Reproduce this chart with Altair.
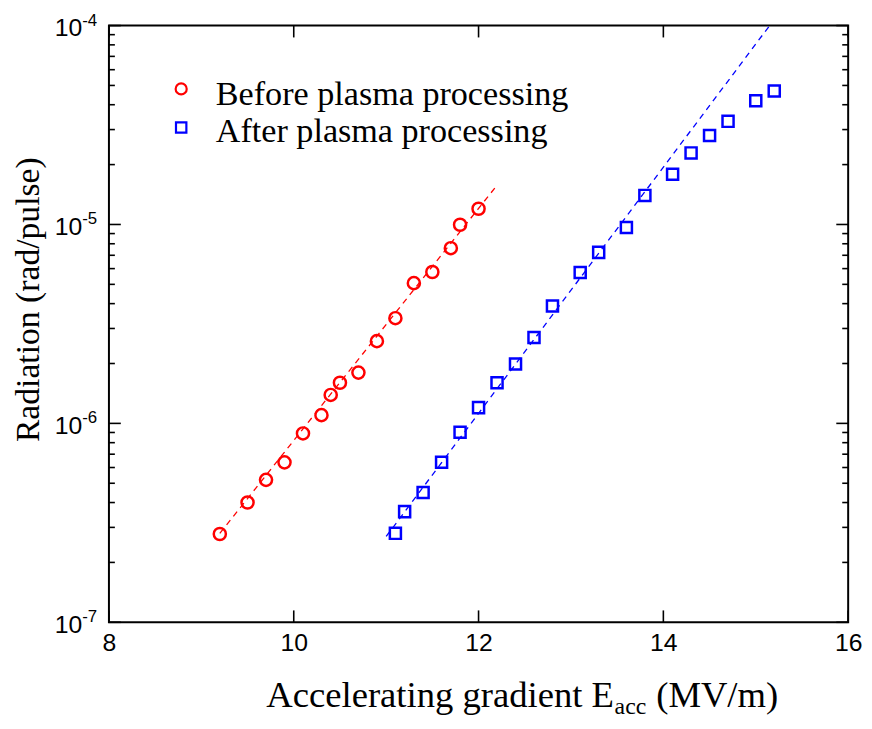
import altair as alt
import pandas as pd

# ---------------- data ----------------
before_x = [9.2, 9.5, 9.7, 9.9, 10.1, 10.3, 10.4, 10.5, 10.7, 10.9, 11.1, 11.3, 11.5, 11.7, 11.8, 12.0]
before_y = [2.78e-7, 4.0e-7, 5.2e-7, 6.37e-7, 8.9e-7, 1.10e-6, 1.39e-6, 1.60e-6, 1.80e-6, 2.59e-6,
            3.38e-6, 5.07e-6, 5.77e-6, 7.60e-6, 9.97e-6, 1.20e-5]
after_x = [11.1, 11.2, 11.4, 11.6, 11.8, 12.0, 12.2, 12.4, 12.6, 12.8, 13.1, 13.3, 13.6, 13.8,
           14.1, 14.3, 14.5, 14.7, 15.0, 15.2]
after_y = [2.8e-7, 3.6e-7, 4.49e-7, 6.38e-7, 9.03e-7, 1.2e-6, 1.6e-6, 1.99e-6, 2.7e-6, 3.89e-6,
           5.74e-6, 7.24e-6, 9.66e-6, 1.40e-5, 1.79e-5, 2.29e-5, 2.80e-5, 3.30e-5, 4.19e-5, 4.69e-5]
fit_before_x = [9.2, 12.2]
fit_before_y = [2.8e-7, 1.575e-5]
fit_after_x = [11.0, 15.15]
fit_after_y = [2.7e-7, 1.0e-4]
series_names = ["Before plasma processing", "After plasma processing"]
x_tick_values = [8, 10, 12, 14, 16]
y_major = [1e-7, 1e-6, 1e-5, 1e-4]
y_exponents = ["-7", "-6", "-5", "-4"]
y_minor = [k * 10.0 ** e for e in (-7, -6, -5) for k in range(2, 10)]
x_title_parts = ["Accelerating gradient E", "acc", "(MV/m)"]
y_title = "Radiation (rad/pulse)"

# ---------------- layout ----------------
W, H = 747, 603
RED, BLUE = "#ff0000", "#0000ff"
SERIF, SANS = "Liberation Serif", "Liberation Sans"

xs = alt.Scale(domain=[8, 16], nice=False, zero=False)
ys = alt.Scale(type="log", domain=[1e-7, 1e-4], nice=False)
xaxis = alt.Axis(values=x_tick_values, labelFont=SANS, labelFontSize=25, labelColor="black",
                 ticks=False, tickSize=0, domain=False, grid=False, title=None,
                 labelPadding=9, labelFlush=False, labelOverlap=False)

df_before = pd.DataFrame({"x": before_x, "y": before_y})
df_after = pd.DataFrame({"x": after_x, "y": after_y})
df_fb = pd.DataFrame({"x": fit_before_x, "y": fit_before_y})
df_fa = pd.DataFrame({"x": fit_after_x, "y": fit_after_y})

X = alt.X("x:Q", scale=xs, axis=xaxis)
Y = alt.Y("y:Q", scale=ys, axis=None)

line_b = alt.Chart(df_fb).mark_line(color=RED, strokeDash=[6, 5], strokeWidth=1.3).encode(x=X, y=Y)
line_a = alt.Chart(df_fa).mark_line(color=BLUE, strokeDash=[6, 5], strokeWidth=1.3, clip=True).encode(x=X, y=Y)
pts_b = alt.Chart(df_before).mark_point(shape="circle", filled=False, color=RED, size=150,
                                        strokeWidth=2.5, opacity=1).encode(x=X, y=Y)
pts_a = alt.Chart(df_after).mark_point(shape="square", filled=False, color=BLUE, size=125,
                                       strokeWidth=2.5, opacity=1).encode(x=X, y=Y)

# inward ticks on all four sides
df_ymaj = pd.DataFrame({"v": y_major, "e": y_exponents, "b": ["10"] * len(y_major)})
df_ymin = pd.DataFrame({"v": y_minor})
df_xt = pd.DataFrame({"v": x_tick_values})
YV = alt.Y("v:Q", scale=ys, axis=None)
XV = alt.X("v:Q", scale=xs, axis=xaxis)

def rule_y(df, x0, x1):
    return alt.Chart(df).mark_rule(color="black", strokeWidth=1.6).encode(
        y=YV, x=alt.value(x0), x2=alt.value(x1))

def rule_x(df, y0, y1):
    return alt.Chart(df).mark_rule(color="black", strokeWidth=1.6).encode(
        x=XV, y=alt.value(y0), y2=alt.value(y1))

ticks = [
    rule_y(df_ymaj, 0, 12), rule_y(df_ymin, 0, 6),
    rule_y(df_ymaj, W, W - 12), rule_y(df_ymin, W, W - 6),
    rule_x(df_xt, H, H - 12), rule_x(df_xt, 0, 12),
]

# y tick labels 10^n
ylab_base = alt.Chart(df_ymaj).mark_text(align="right", baseline="middle", font=SANS, fontSize=25,
                                         dy=3, color="black").encode(
    y=YV, x=alt.value(-27), text="b:N")
ylab_exp = alt.Chart(df_ymaj).mark_text(align="left", baseline="middle", font=SANS, fontSize=17,
                                        dy=-5, color="black").encode(
    y=YV, x=alt.value(-27), text="e:N")

one = pd.DataFrame({"k": [0]})
ytitle = alt.Chart(one).mark_text(angle=270, align="center", baseline="alphabetic", font=SERIF,
                                  fontSize=34, color="black", text=y_title).encode(
    x=alt.value(-71), y=alt.value(277))
xt1 = alt.Chart(one).mark_text(align="left", baseline="alphabetic", font=SERIF, fontSize=37,
                               color="black", text=x_title_parts[0]).encode(
    x=alt.value(159), y=alt.value(689))
xt2 = alt.Chart(one).mark_text(align="left", baseline="alphabetic", font=SERIF, fontSize=24,
                               color="black", text=x_title_parts[1]).encode(
    x=alt.value(511), y=alt.value(696))
xt3 = alt.Chart(one).mark_text(align="left", baseline="alphabetic", font=SERIF, fontSize=37,
                               color="black", text=x_title_parts[2]).encode(
    x=alt.value(553), y=alt.value(689))

# legend
leg_c = alt.Chart(one).mark_point(shape="circle", filled=False, color=RED, size=125,
                                  strokeWidth=2.2, opacity=1).encode(x=alt.value(73), y=alt.value(64))
leg_s = alt.Chart(one).mark_point(shape="square", filled=False, color=BLUE, size=110,
                                  strokeWidth=2.2, opacity=1).encode(x=alt.value(73), y=alt.value(103))
leg_t1 = alt.Chart(one).mark_text(align="left", baseline="alphabetic", font=SERIF, fontSize=34.5,
                                  color="black", text=series_names[0]).encode(
    x=alt.value(108), y=alt.value(80))
leg_t2 = alt.Chart(one).mark_text(align="left", baseline="alphabetic", font=SERIF, fontSize=34.5,
                                  color="black", text=series_names[1]).encode(
    x=alt.value(108), y=alt.value(118))

chart = alt.layer(
    line_b, line_a, pts_b, pts_a, *ticks, ylab_base, ylab_exp, ytitle, xt1, xt2, xt3,
    leg_c, leg_s, leg_t1, leg_t2
).properties(
    width=W, height=H,
    padding={"left": 102, "top": 14, "right": 16, "bottom": 96},
    autosize=alt.AutoSizeParams(type="none"),
    background="white",
).configure_view(stroke="black", strokeWidth=2)

chart.save("out.html", embed_options={"renderer": "svg", "actions": False})
